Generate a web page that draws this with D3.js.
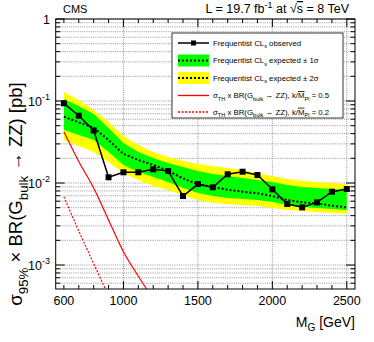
<!DOCTYPE html>
<html>
<head>
<meta charset="utf-8">
<script src="https://cdn.jsdelivr.net/npm/d3@7"></script>
<style>
  body { margin: 0; background: #fff; }
  svg { font-family: "Liberation Sans", Arial, sans-serif; display: block; }
</style>
</head>
<body>
<svg id="chart"></svg>
<script>
// mass points (GeV)
var masses = [600, 700, 800, 900, 1000, 1100, 1200, 1300, 1400, 1500,
              1600, 1700, 1800, 1900, 2000, 2100, 2200, 2300, 2400, 2500];
// observed limit (pb)
var observed = [0.0937, 0.0662, 0.0437, 0.01174, 0.01351, 0.01351, 0.01469, 0.0140, 0.00694, 0.00971,
                0.00886, 0.01277, 0.01373, 0.01252, 0.00838, 0.00555, 0.00505, 0.00581, 0.00783, 0.00845];
// expected limit (pb)
var expected = [0.0643, 0.0550, 0.0472, 0.0334, 0.0226, 0.0191, 0.0166, 0.0140, 0.0114, 0.00964,
                0.00894, 0.00829, 0.00783, 0.00749, 0.00694, 0.00620, 0.00581, 0.00565, 0.00528, 0.00505];
var sigma1Up = [0.1058, 0.0869, 0.0694, 0.0468, 0.0308, 0.0239, 0.0202, 0.0175, 0.0157, 0.0140,
                0.0129, 0.0122, 0.0115, 0.0109, 0.0103, 0.00945, 0.00894, 0.00869, 0.00845, 0.00822];
var sigma1Down = [0.0443, 0.0385, 0.0334, 0.0239, 0.0166, 0.0136, 0.0118, 0.0103, 0.00869, 0.00755,
                  0.00694, 0.00657, 0.00638, 0.00620, 0.00587, 0.00539, 0.00510, 0.00496, 0.00482, 0.00469];
var sigma2Up = [0.1288, 0.1028, 0.0777, 0.0554, 0.0374, 0.0291, 0.0239, 0.0208, 0.0186, 0.0171,
                0.0161, 0.0152, 0.0144, 0.0132, 0.0122, 0.0112, 0.0106, 0.0103, 0.0100, 0.0097];
var sigma2Down = [0.0334, 0.0283, 0.0239, 0.0180, 0.0132, 0.0109, 0.00919, 0.00822, 0.00714, 0.00620,
                  0.00570, 0.00555, 0.00539, 0.00524, 0.00496, 0.00469, 0.00456, 0.00443, 0.00431, 0.00425];
// theory cross sections
var theoryMasses05 = [600, 700, 800, 900, 1000, 1100, 1200];
var theory05 = [0.0422, 0.0183, 0.00869, 0.00354, 0.00145, 0.00073, 0.000385];
var theoryMasses02 = [600, 700, 800, 900];
var theory02 = [0.0068, 0.0026, 0.00104, 0.00042];

var xTickLabels = [600, 1000, 1500, 2000, 2500];
var xMajor = [1000, 1500, 2000, 2500];
var yDecades = [1e-3, 1e-2, 1e-1, 1];

(function() {
    var W = 374, H = 342;
    var svg = d3.select("#chart").attr("width", W).attr("height", H);
    svg.append("rect").attr("width", W).attr("height", H).attr("fill", "#fff");

    var x = d3.scaleLinear().domain([545, 2555]).range([55.7, 355]);
    var y = d3.scaleLog().domain([5.1e-4, 1]).range([289, 19]);
    var x0 = x.range()[0], x1 = x.range()[1], y0 = y.range()[0], y1 = y.range()[1];

    function rich(t, parts, fs) {
        var shift = 0;
        parts.forEach(function(p) {
            var kind = p[1], target = 0, size = fs;
            if (kind === "sub") { target = fs * 0.32; size = fs * 0.72; }
            if (kind === "sup") { target = -fs * 0.42; size = fs * 0.72; }
            var ts = t.append("tspan").text(p[0]).attr("dy", target - shift).style("font-size", size + "px");
            if (kind === "ol") ts.style("text-decoration", "overline");
            shift = target;
        });
    }

    // minor y values
    var yMinor = [];
    for (var e = -4; e <= 0; e++) {
        for (var m = 1; m <= 9; m++) {
            var v = m * Math.pow(10, e);
            if (v >= 5.1e-4 && v <= 1) yMinor.push(v);
        }
    }
    var xMinor = d3.range(600, 2501, 100);

    // grid
    var grid = svg.append("g").attr("stroke", "#7a7a7a").attr("stroke-width", 0.8).attr("stroke-dasharray", "1,1.2");
    grid.selectAll(".hg").data(yMinor).enter().append("line")
        .attr("x1", x0).attr("x2", x1)
        .attr("y1", d => y(d)).attr("y2", d => y(d));
    grid.selectAll(".vg").data(xMajor).enter().append("line")
        .attr("y1", y0).attr("y2", y1)
        .attr("x1", d => x(d)).attr("x2", d => x(d));

    var plot = svg.append("g");
    svg.append("clipPath").attr("id", "clip").append("rect")
        .attr("x", x0).attr("y", y1).attr("width", x1 - x0).attr("height", y0 - y1);
    plot.attr("clip-path", "url(#clip)");

    var idx = d3.range(masses.length);
    var area = function(lo, hi) {
        return d3.area().x(i => x(masses[i])).y0(i => y(lo[i])).y1(i => y(hi[i]))(idx);
    };
    plot.append("path").attr("d", area(sigma2Down, sigma2Up)).attr("fill", "#ffff00");
    plot.append("path").attr("d", area(sigma1Down, sigma1Up)).attr("fill", "#00ff00");

    var line = d3.line().x(d => x(d[0])).y(d => y(d[1]));
    plot.append("path")
        .attr("d", line(d3.zip(masses, expected)))
        .attr("fill", "none").attr("stroke", "#000").attr("stroke-width", 2).attr("stroke-dasharray", "2,2");

    var theoLine = d3.line().x(d => x(d[0])).y(d => y(d[1])).curve(d3.curveMonotoneX);
    plot.append("path")
        .attr("d", theoLine(d3.zip(theoryMasses05, theory05)))
        .attr("fill", "none").attr("stroke", "#ff0000").attr("stroke-width", 1.2);
    plot.append("path")
        .attr("d", theoLine(d3.zip(theoryMasses02, theory02)))
        .attr("fill", "none").attr("stroke", "#ff0000").attr("stroke-width", 1.2).attr("stroke-dasharray", "2,1.5");

    plot.append("path")
        .attr("d", line(d3.zip(masses, observed)))
        .attr("fill", "none").attr("stroke", "#000").attr("stroke-width", 1.5);
    plot.selectAll(".obs").data(d3.zip(masses, observed)).enter().append("rect")
        .attr("x", d => x(d[0]) - 3).attr("y", d => y(d[1]) - 3)
        .attr("width", 6).attr("height", 6).attr("fill", "#000");

    // frame
    svg.append("rect").attr("x", x0).attr("y", y1).attr("width", x1 - x0).attr("height", y0 - y1)
        .attr("fill", "none").attr("stroke", "#000").attr("stroke-width", 1);

    // ticks
    var ticks = svg.append("g").attr("stroke", "#000").attr("stroke-width", 1);
    yMinor.forEach(function(v) {
        var len = yDecades.indexOf(v) >= 0 ? 9 : 4.5;
        ticks.append("line").attr("x1", x0).attr("x2", x0 + len).attr("y1", y(v)).attr("y2", y(v));
        ticks.append("line").attr("x1", x1).attr("x2", x1 - len).attr("y1", y(v)).attr("y2", y(v));
    });
    xMinor.forEach(function(v) {
        var len = xMajor.indexOf(v) >= 0 ? 8 : 4;
        ticks.append("line").attr("y1", y0).attr("y2", y0 - len).attr("x1", x(v)).attr("x2", x(v));
        ticks.append("line").attr("y1", y1).attr("y2", y1 + len).attr("x1", x(v)).attr("x2", x(v));
    });

    // tick labels
    svg.selectAll(".xl").data(xTickLabels).enter().append("text")
        .attr("x", d => x(d)).attr("y", 305)
        .attr("text-anchor", "middle").style("font-size", "12.5px")
        .text(d => d);
    yDecades.forEach(function(v) {
        var t = svg.append("text").attr("x", 50).attr("y", y(v) + 4.5)
            .attr("text-anchor", "end").style("font-size", "12.5px");
        if (v === 1) t.text("1");
        else rich(t, [["10", "n"], [String(Math.round(Math.log10(v))), "sup"]], 12.5);
    });

    // axis titles
    var xt = svg.append("text").attr("x", 355).attr("y", 327).attr("text-anchor", "end");
    rich(xt, [["M", "n"], ["G", "sub"], [" [GeV]", "n"]], 14);
    var yt = svg.append("text").attr("text-anchor", "middle")
        .attr("transform", "translate(22,194) rotate(-90)");
    rich(yt, [["σ", "n"], ["95%", "sub"], [" × BR(G", "n"], ["bulk", "sub"], [" → ZZ) [pb]", "n"]], 18.5);

    // header
    svg.append("text").attr("x", 63).attr("y", 13).style("font-size", "11px").text("CMS");
    var lum = svg.append("text").attr("x", 349).attr("y", 13).attr("text-anchor", "end");
    rich(lum, [["L = 19.7 fb", "n"], ["-1", "sup"], [" at  √", "n"], ["s", "ol"], [" = 8 TeV", "n"]], 12.5);

    // legend
    var lg = svg.append("g");
    lg.append("rect").attr("x", 172).attr("y", 33).attr("width", 171).attr("height", 85)
        .attr("fill", "#fff").attr("stroke", "#000").attr("stroke-width", 0.8);
    var rows = [43, 60.5, 78, 95.5, 112];
    var sx0 = 178, sx1 = 209, tx = 213, fs = 7.8;

    lg.append("line").attr("x1", sx0).attr("x2", sx1).attr("y1", rows[0]).attr("y2", rows[0])
        .attr("stroke", "#000").attr("stroke-width", 1.5);
    lg.append("rect").attr("x", (sx0 + sx1) / 2 - 2.5).attr("y", rows[0] - 2.5).attr("width", 5).attr("height", 5);
    [["#00ff00", rows[1]], ["#ffff00", rows[2]]].forEach(function(r) {
        lg.append("rect").attr("x", sx0).attr("y", r[1] - 6).attr("width", sx1 - sx0).attr("height", 12).attr("fill", r[0]);
        lg.append("line").attr("x1", sx0).attr("x2", sx1).attr("y1", r[1]).attr("y2", r[1])
            .attr("stroke", "#000").attr("stroke-width", 2).attr("stroke-dasharray", "2,2");
    });
    lg.append("line").attr("x1", sx0).attr("x2", sx1).attr("y1", rows[3]).attr("y2", rows[3])
        .attr("stroke", "#ff0000").attr("stroke-width", 1.3);
    lg.append("line").attr("x1", sx0).attr("x2", sx1).attr("y1", rows[4]).attr("y2", rows[4])
        .attr("stroke", "#ff0000").attr("stroke-width", 1.3).attr("stroke-dasharray", "2,1.5");

    var labels = [
        [["Frequentist CL", "n"], ["s", "sub"], [" observed", "n"]],
        [["Frequentist CL", "n"], ["s", "sub"], [" expected ± 1σ", "n"]],
        [["Frequentist CL", "n"], ["s", "sub"], [" expected ± 2σ", "n"]],
        [["σ", "n"], ["TH", "sub"], [" x BR(G", "n"], ["bulk", "sub"], [" → ZZ), k/", "n"], ["M", "ol"], ["Pl", "sub"], [" = 0.5", "n"]],
        [["σ", "n"], ["TH", "sub"], [" x BR(G", "n"], ["bulk", "sub"], [" → ZZ), k/", "n"], ["M", "ol"], ["Pl", "sub"], [" = 0.2", "n"]]
    ];
    labels.forEach(function(parts, i) {
        var t = lg.append("text").attr("x", tx).attr("y", rows[i] + 2.7);
        rich(t, parts, fs);
    });
})();
</script>
</body>
</html>
